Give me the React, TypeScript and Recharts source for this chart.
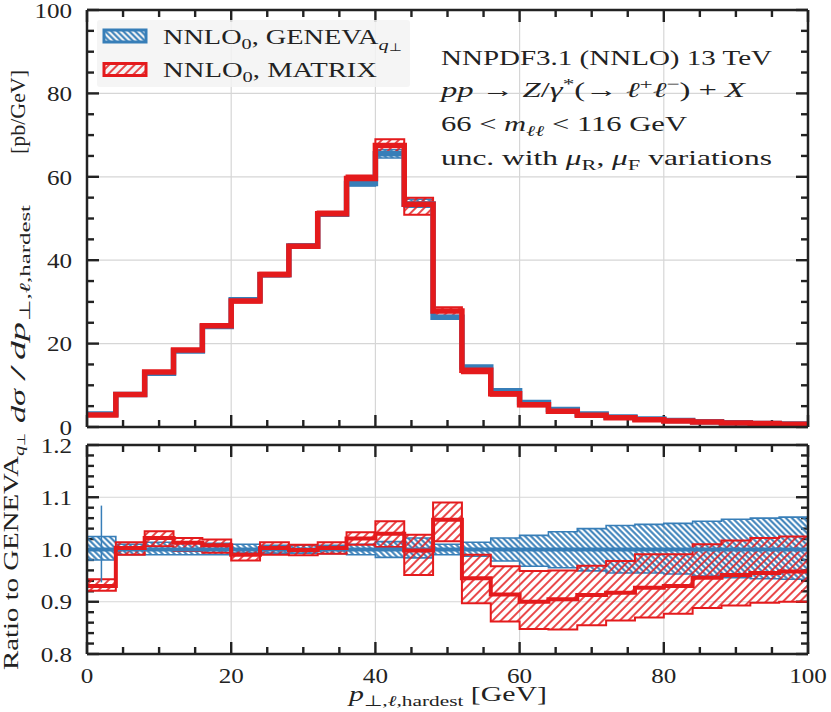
import React from "react";
import {
  ComposedChart,
  Area,
  Line,
  XAxis,
  YAxis,
  CartesianGrid,
  ReferenceLine,
} from "recharts";

const BLUE = "#377eb8";
const RED = "#e41a1c";
const FRAME = "#222222";
const SERIF = "'Liberation Serif', 'Times New Roman', serif";

// bin edges in GeV (25 bins of 4 GeV)
const binEdges = [
  0, 4, 8, 12, 16, 20, 24, 28, 32, 36, 40, 44, 48, 52, 56, 60, 64, 68, 72, 76,
  80, 84, 88, 92, 96, 100,
];

// dσ/dp [pb/GeV], NNLO0 GENEVA
const genevaXs = [
  3.1, 7.8, 12.9, 18.2, 24.1, 30.5, 36.5, 43.4, 51.0, 58.4, 65.5, 53.5, 26.3,
  14.4, 8.7, 5.9, 4.2, 3.1, 2.4, 1.9, 1.55, 1.25, 1.0, 0.85, 0.7,
];
const genevaXsLow = [
  3.04, 7.72, 12.77, 18.0, 23.86, 30.3, 36.25, 43.1, 50.6, 57.8, 64.5, 52.7,
  26.0, 14.2, 8.5, 5.7, 4.05, 2.97, 2.29, 1.81, 1.48, 1.19, 0.95, 0.8, 0.66,
];
const genevaXsHigh = [
  3.18, 7.88, 13.08, 18.45, 24.4, 30.8, 36.8, 43.75, 51.4, 59.0, 66.5, 54.6,
  26.6, 14.6, 8.9, 6.1, 4.35, 3.22, 2.51, 1.99, 1.63, 1.32, 1.06, 0.9, 0.74,
];

// NNLO0 MATRIX
const matrixXs = [
  2.88, 7.82, 13.18, 18.44, 24.29, 30.2, 36.6, 43.36, 51.15, 59.6, 67.5, 53.4,
  27.8, 13.6, 7.95, 5.31, 3.8, 2.83, 2.2, 1.76, 1.44, 1.18, 0.95, 0.81, 0.67,
];
const matrixXsLow = [
  2.85, 7.72, 12.98, 18.15, 23.95, 29.85, 36.1, 42.9, 50.6, 58.9, 65.8, 50.9,
  26.7, 12.9, 7.5, 5.0, 3.56, 2.65, 2.07, 1.65, 1.36, 1.11, 0.89, 0.76, 0.63,
];
const matrixXsHigh = [
  2.92, 7.9, 13.35, 18.6, 24.55, 30.5, 37.0, 43.8, 51.7, 60.3, 69.0, 55.0,
  28.7, 14.3, 8.4, 5.65, 4.03, 3.0, 2.35, 1.88, 1.54, 1.26, 1.02, 0.87, 0.72,
];

// ratio to GENEVA
const genevaRatio = [
  1, 1, 1, 1, 1, 1, 1, 1, 1, 1, 1, 1, 1, 1, 1, 1, 1, 1, 1, 1, 1, 1, 1, 1, 1,
];
const genevaRatioLow = [
  0.98, 0.99, 0.99, 0.99, 0.99, 0.993, 0.993, 0.993, 0.992, 0.99, 0.985, 0.984,
  0.99, 0.987, 0.978, 0.968, 0.965, 0.959, 0.955, 0.955, 0.953, 0.949, 0.946,
  0.944, 0.943,
];
const genevaRatioHigh = [
  1.025, 1.01, 1.014, 1.014, 1.012, 1.01, 1.008, 1.008, 1.008, 1.01, 1.015,
  1.022, 1.01, 1.014, 1.022, 1.027, 1.034, 1.04, 1.046, 1.048, 1.05, 1.054,
  1.058, 1.06, 1.062,
];
const matrixRatio = [
  0.93, 1.003, 1.022, 1.013, 1.008, 0.99, 1.003, 0.999, 1.003, 1.021, 1.03,
  0.998, 1.057, 0.945, 0.914, 0.9, 0.905, 0.913, 0.917, 0.927, 0.93, 0.946,
  0.951, 0.955, 0.958,
];
const matrixRatioLow = [
  0.921, 0.99, 1.006, 0.997, 0.994, 0.979, 0.99, 0.989, 0.992, 1.009, 1.005,
  0.951, 1.016, 0.897, 0.862, 0.848, 0.847, 0.855, 0.864, 0.87, 0.877, 0.888,
  0.893, 0.898, 0.9,
];
const matrixRatioHigh = [
  0.943, 1.014, 1.035, 1.022, 1.019, 1.0, 1.014, 1.009, 1.014, 1.033, 1.054,
  1.028, 1.09, 0.99, 0.968, 0.959, 0.96, 0.969, 0.978, 0.991, 0.991, 1.01,
  1.017, 1.022, 1.025,
];

// statistical error of the first GENEVA bin in the ratio
const genevaStatX = 2;
const genevaStatLow = 0.937;
const genevaStatHigh = 1.084;

// ticks
const xTicks = [0, 20, 40, 60, 80, 100];
const xMinorTicks = [
  5, 10, 15, 25, 30, 35, 45, 50, 55, 65, 70, 75, 85, 90, 95,
];
const topYTicks = [0, 20, 40, 60, 80, 100];
const topYMinorTicks = [
  5, 10, 15, 25, 30, 35, 45, 50, 55, 65, 70, 75, 85, 90, 95,
];
const ratioYTicks = [0.8, 0.9, 1.0, 1.1, 1.2];
const ratioYMinorTicks = [
  0.82, 0.84, 0.86, 0.88, 0.92, 0.94, 0.96, 0.98, 1.02, 1.04, 1.06, 1.08,
  1.12, 1.14, 1.16, 1.18,
];

// step tables: one row per bin edge, last edge repeats the last bin
const last = genevaXs.length - 1;
const topRows = binEdges.map((x, i) => {
  const j = Math.min(i, last);
  return {
    x,
    geneva: genevaXs[j],
    genevaBand: [genevaXsLow[j], genevaXsHigh[j]],
    matrix: matrixXs[j],
    matrixBand: [matrixXsLow[j], matrixXsHigh[j]],
  };
});
const ratioRows = binEdges.map((x, i) => {
  const j = Math.min(i, last);
  return {
    x,
    geneva: genevaRatio[j],
    genevaBand: [genevaRatioLow[j], genevaRatioHigh[j]],
    matrix: matrixRatio[j],
    matrixBand: [matrixRatioLow[j], matrixRatioHigh[j]],
  };
});

// plot geometry (px), set by the chart margins below
const PLOT_LEFT = 87;
const PLOT_W = 721;
const TOP_PLOT_TOP = 10;
const TOP_PLOT_H = 417;
const RATIO_PLOT_TOP = 15;
const RATIO_PLOT_H = 209;
const MAJOR = 12;
const MINOR = 7;
const TICK_W = 2.4;

const frameLine = { stroke: FRAME, strokeWidth: 2.5 };

// tick label drawn a little wider, like the reference's Computer Modern digits
function ScaledTick(props: any) {
  const { x, y, payload, anchor, dy, fmt } = props;
  return (
    <g transform={`translate(${x} ${y}) scale(1.14 1)`}>
      <text x={0} y={0} dy={dy} textAnchor={anchor} fontFamily={SERIF}
        fontSize={22} fill="#222">
        {fmt(payload.value)}
      </text>
    </g>
  );
}
const NoLabel = () => <g />;

function frameAxes(
  yDomain: number[],
  yTicks: number[],
  yFormat: (v: number) => string,
  showXLabels: boolean
) {
  const xFmt = (v: number) => String(v);
  return [
    <XAxis key="xb" xAxisId="x" orientation="bottom" type="number" dataKey="x"
      domain={[0, 100]} allowDataOverflow ticks={xTicks} interval={0} height={1}
      tickSize={0} tickMargin={13} tickLine={false} axisLine={frameLine}
      tick={showXLabels
        ? (p: any) => <ScaledTick {...p} anchor="middle" dy="0.71em" fmt={xFmt} />
        : NoLabel} />,
    <YAxis key="yl" yAxisId="y" orientation="left" type="number"
      domain={yDomain} allowDataOverflow ticks={yTicks} interval={0} width={1}
      tickSize={0} tickMargin={15} tickLine={false} axisLine={frameLine}
      tick={(p: any) => <ScaledTick {...p} anchor="end" dy="0.35em" fmt={yFormat} />} />,
    <XAxis key="xt" xAxisId="xt" orientation="top" mirror type="number"
      domain={[0, 100]} allowDataOverflow ticks={xTicks} height={1}
      tickLine={false} tick={NoLabel} axisLine={frameLine} />,
    <YAxis key="yr" yAxisId="yr" orientation="right" mirror type="number"
      domain={yDomain} allowDataOverflow ticks={yTicks} width={1}
      tickLine={false} tick={NoLabel} axisLine={frameLine} />,
  ];
}

// inward tick marks on all four sides of a panel frame, as small filled rects
function frameTicks(
  yDomain: number[],
  yTicks: number[],
  yMinorTicks: number[],
  top: number,
  h: number
) {
  const [y0, y1] = yDomain;
  const px = (t: number) => PLOT_LEFT + (t / 100) * PLOT_W;
  const py = (v: number) => top + ((y1 - v) / (y1 - y0)) * h;
  const right = PLOT_LEFT + PLOT_W;
  const bottom = top + h;
  const half = TICK_W / 2;
  const marks: React.ReactElement[] = [];
  const xt = (t: number, len: number, k: string) => {
    marks.push(<rect key={`b${k}`} x={px(t) - half} y={bottom - len} width={TICK_W} height={len} />);
    marks.push(<rect key={`t${k}`} x={px(t) - half} y={top} width={TICK_W} height={len} />);
  };
  const yt = (v: number, len: number, k: string) => {
    marks.push(<rect key={`l${k}`} x={PLOT_LEFT} y={py(v) - half} width={len} height={TICK_W} />);
    marks.push(<rect key={`r${k}`} x={right - len} y={py(v) - half} width={len} height={TICK_W} />);
  };
  xTicks.forEach((t) => xt(t, MAJOR, `M${t}`));
  xMinorTicks.forEach((t) => xt(t, MINOR, `m${t}`));
  yTicks.forEach((v) => yt(v, MAJOR, `M${v}`));
  yMinorTicks.forEach((v) => yt(v, MINOR, `m${v}`));
  return <g fill={FRAME} stroke="none">{marks}</g>;
}

function hatchDefs(prefix: string) {
  return (
    <defs>
      <pattern id={`${prefix}-blue`} patternUnits="userSpaceOnUse" width="4.2"
        height="4.2" patternTransform="rotate(-45)">
        <line x1="2.1" y1="0" x2="2.1" y2="4.2" stroke={BLUE} strokeWidth="2" />
      </pattern>
      <pattern id={`${prefix}-red`} patternUnits="userSpaceOnUse" width="6"
        height="6" patternTransform="rotate(45)">
        <line x1="3" y1="0" x2="3" y2="6" stroke={RED} strokeWidth="1.6" />
      </pattern>
    </defs>
  );
}

function series(prefix: string, lineWidth: number) {
  return [
    <Area key="gb" xAxisId="x" yAxisId="y" type="stepAfter" dataKey="genevaBand"
      stroke={BLUE} strokeWidth={1.6} fill={`url(#${prefix}-blue)`} fillOpacity={1}
      dot={false} activeDot={false} isAnimationActive={false} />,
    <Line key="gl" xAxisId="x" yAxisId="y" type="stepAfter" dataKey="geneva"
      stroke={BLUE} strokeWidth={lineWidth} dot={false} activeDot={false}
      isAnimationActive={false} />,
    <Area key="mb" xAxisId="x" yAxisId="y" type="stepAfter" dataKey="matrixBand"
      stroke={RED} strokeWidth={2} fill={`url(#${prefix}-red)`} fillOpacity={1}
      dot={false} activeDot={false} isAnimationActive={false} />,
    <Line key="ml" xAxisId="x" yAxisId="y" type="stepAfter" dataKey="matrix"
      stroke={RED} strokeWidth={lineWidth} dot={false} activeDot={false}
      isAnimationActive={false} />,
  ];
}

const it = { fontStyle: "italic" as const };
const txt = { fontFamily: SERIF, fontSize: 21, fill: "#222" };
const fit = { lengthAdjust: "spacingAndGlyphs" as const };

function TopPanel() {
  return (
    <ComposedChart width={831} height={445} data={topRows}
      margin={{ top: 10, right: 23, bottom: 17, left: 86 }}>
      {hatchDefs("top")}
      <CartesianGrid xAxisId="x" yAxisId="y" stroke="#d6d6d6" strokeWidth={1.2} />
      {series("top", 5.5)}
      {frameAxes([0, 100], topYTicks, (v) => String(v), false)}
      {frameTicks([0, 100], topYTicks, topYMinorTicks, TOP_PLOT_TOP, TOP_PLOT_H)}

      {/* legend */}
      <g>
        <rect x={97} y={20} width={313} height={67} rx={3} fill="#f3f3f3" fillOpacity={0.85} />
        <rect x={104} y={30} width={42} height={12} fill="url(#top-blue)" stroke={BLUE} strokeWidth={3} />
        <rect x={104} y={63.5} width={42} height={12} fill="url(#top-red)" stroke={RED} strokeWidth={3} />
        <text x={163} y={44} {...txt} textLength={239} {...fit}>
          NNLO<tspan dy={5} fontSize={15}>0</tspan>
          <tspan dy={-5}>, GENEVA</tspan>
          <tspan dy={6} fontSize={15} {...it}>q</tspan>
          <tspan dy={1} fontSize={11}>⊥</tspan>
        </text>
        <text x={163} y={77} {...txt} textLength={214} {...fit}>
          NNLO<tspan dy={5} fontSize={15}>0</tspan>
          <tspan dy={-5}>, MATRIX</tspan>
        </text>
      </g>

      {/* process information */}
      <text x={441} y={65} {...txt} textLength={331} {...fit}>
        NNPDF3.1 (NNLO) 13 TeV
      </text>
      <text x={441} y={97} {...txt} textLength={304} {...fit}>
        <tspan {...it}>pp</tspan>
        <tspan>{" → "}</tspan>
        <tspan {...it}>Z</tspan>
        <tspan>/</tspan>
        <tspan {...it}>γ</tspan>
        <tspan dy={-8} fontSize={15}>*</tspan>
        <tspan dy={8}>(→ </tspan>
        <tspan {...it}>ℓ</tspan>
        <tspan dy={-8} fontSize={15}>+</tspan>
        <tspan dy={8} {...it}>ℓ</tspan>
        <tspan dy={-8} fontSize={15}>−</tspan>
        <tspan dy={8}>{") + "}</tspan>
        <tspan {...it}>X</tspan>
      </text>
      <text x={441} y={131} {...txt} textLength={246} {...fit}>
        <tspan>{"66 < "}</tspan>
        <tspan {...it}>m</tspan>
        <tspan dy={5} fontSize={15} {...it}>ℓℓ</tspan>
        <tspan dy={-5}>{" < 116 GeV"}</tspan>
      </text>
      <text x={441} y={165} {...txt} textLength={331} {...fit}>
        <tspan>{"unc. with "}</tspan>
        <tspan {...it}>μ</tspan>
        <tspan dy={5} fontSize={15}>R</tspan>
        <tspan dy={-5}>{", "}</tspan>
        <tspan {...it}>μ</tspan>
        <tspan dy={5} fontSize={15}>F</tspan>
        <tspan dy={-5}>{" variations"}</tspan>
      </text>

      {/* y axis title, read from bottom to top, in pieces */}
      <g transform="translate(25 423) rotate(-90)" fontFamily={SERIF} fill="#222">
        <text x={0} y={0} fontSize={20} textLength={34} {...fit} {...it}>dσ</text>
        <text x={42} y={0} fontSize={20} textLength={16} {...fit}>/</text>
        <text x={63} y={0} fontSize={20} textLength={38} {...fit} {...it}>dp</text>
        <text x={102} y={5} fontSize={15} textLength={116} {...fit}>
          <tspan>⊥,</tspan>
          <tspan {...it}>ℓ</tspan>
          <tspan>,hardest</tspan>
        </text>
        <text x={269} y={0} fontSize={21} textLength={84} {...fit}>[pb/GeV]</text>
      </g>
    </ComposedChart>
  );
}

function RatioPanel() {
  return (
    <ComposedChart width={831} height={282} data={ratioRows}
      margin={{ top: 15, right: 23, bottom: 57, left: 86 }}>
      {hatchDefs("ratio")}
      <CartesianGrid xAxisId="x" yAxisId="y" stroke="#d6d6d6" strokeWidth={1.2} />
      {series("ratio", 4)}
      <ReferenceLine xAxisId="x" yAxisId="y" stroke={BLUE} strokeWidth={1.5}
        segment={[
          { x: genevaStatX, y: genevaStatLow },
          { x: genevaStatX, y: genevaStatHigh },
        ]} />
      {frameAxes([0.8, 1.2], ratioYTicks, (v) => v.toFixed(1), true)}
      {frameTicks([0.8, 1.2], ratioYTicks, ratioYMinorTicks, RATIO_PLOT_TOP, RATIO_PLOT_H)}

      {/* y axis title */}
      <g transform="translate(18 240) rotate(-90)">
        <text x={0} y={0} textAnchor="start" {...txt} textLength={238} {...fit}>
          <tspan>Ratio to GENEVA</tspan>
          <tspan dy={6} fontSize={15} {...it}>q</tspan>
          <tspan dy={1} fontSize={11}>⊥</tspan>
        </text>
      </g>

      {/* x axis title */}
      <text x={349} y={271} textAnchor="start" {...txt} textLength={198} {...fit}>
        <tspan {...it}>p</tspan>
        <tspan dy={5} fontSize={15}>⊥,</tspan>
        <tspan fontSize={15} {...it}>ℓ</tspan>
        <tspan fontSize={15}>,hardest</tspan>
        <tspan dy={-5}>{" [GeV]"}</tspan>
      </text>
    </ComposedChart>
  );
}

export default function App() {
  return (
    <div style={{ position: "absolute", left: 0, top: 0, width: 831, height: 712, background: "#fff" }}>
      <div style={{ position: "absolute", left: 0, top: 0 }}>
        <TopPanel />
      </div>
      <div style={{ position: "absolute", left: 0, top: 430 }}>
        <RatioPanel />
      </div>
    </div>
  );
}
